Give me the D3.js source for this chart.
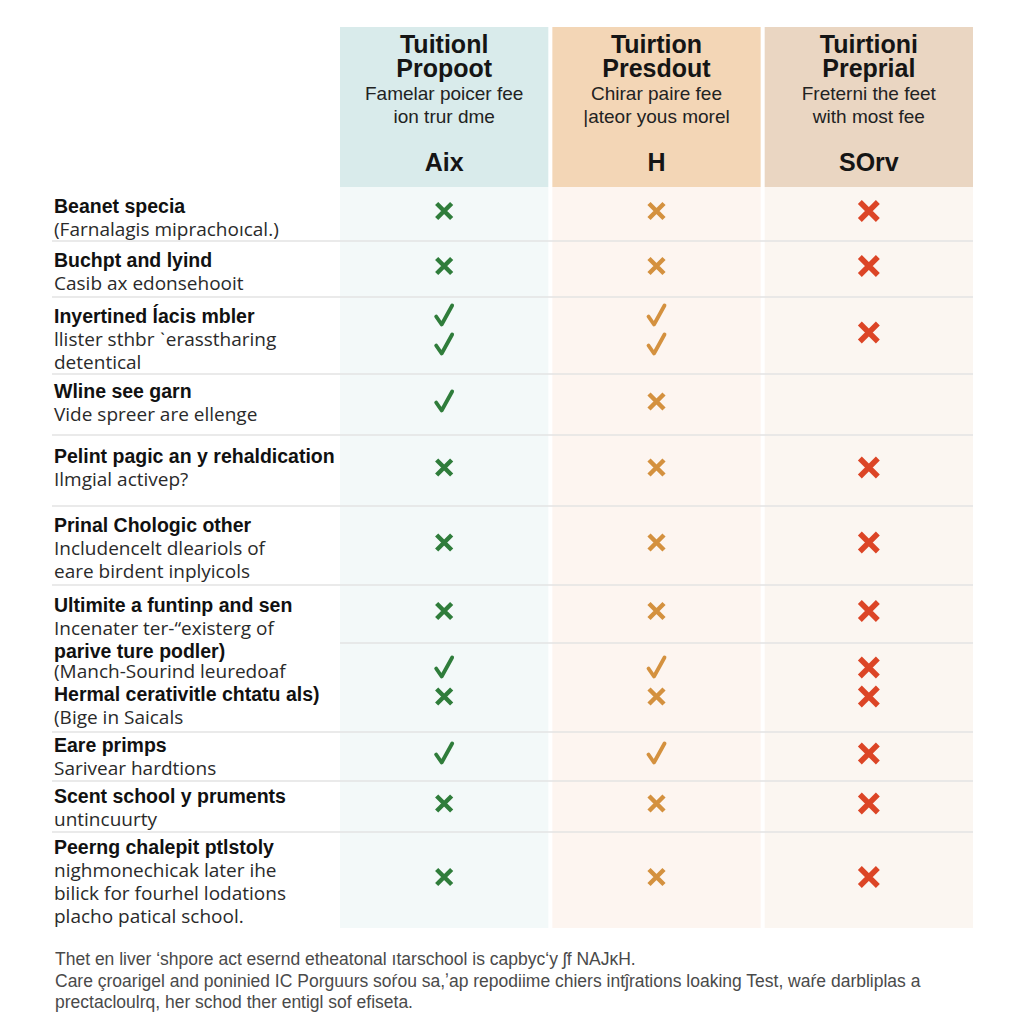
<!DOCTYPE html>
<html><head><meta charset="utf-8">
<script src="https://cdn.jsdelivr.net/npm/d3@7"></script>
<style>body{margin:0;background:#fff}svg{display:block}</style>
</head><body>
<svg id="c" width="1024" height="1024"></svg>
<script>
// ---------- DATA ----------
const columns = ["A", "B", "C"];
const colTitles = [["Tuitionl", "Propoot"], ["Tuirtion", "Presdout"], ["Tuirtioni", "Preprial"]];
const colSubtitles = [["Famelar poicer fee", "ion trur dme"], ["Chirar paire fee", "|ateor yous morel"], ["Freterni the feet", "with most fee"]];
const colCodes = ["Aix", "H", "SOrv"];

const rowLabels = [
  [["Beanet specia", 1], ["(Farnalagis mipracho\u0131cal.)", 0]],
  [["Buchpt and lyind", 1], ["Casib ax edonsehooit", 0]],
  [["Inyertined ĺacis mbler", 1], ["llister sthbr \u02cberasstharing", 0], ["detentical", 0]],
  [["Wline see garn", 1], ["Vide spreer are ellenge", 0]],
  [["Pelint pagic an y rehaldication", 1], ["Ilmgial activep?", 0]],
  [["Prinal Chologic other", 1], ["Includencelt dleariols of", 0], ["eare birdent inplyicols", 0]],
  [["Ultimite a funtinp and sen", 1], ["Incenater ter-\u201cexisterg of", 0], ["parive ture podler)", 1]],
  [["(Manch-Sourind leuredoaf", 0], ["Hermal cerativitle chtatu als)", 1], ["(Bige in Saicals", 0]],
  [["Eare primps", 1], ["Sarivear hardtions", 0]],
  [["Scent school y pruments", 1], ["untincuurty", 0]],
  [["Peerng chalepit ptlstoly", 1], ["nighmonechicak later ihe", 0], ["bilick for fourhel lodations", 0], ["placho patical school.", 0]]
];

const marksA = [["x"], ["x"], ["check", "check"], ["check"], ["x"], ["x"], ["x"], ["check", "x"], ["check"], ["x"], ["x"]];
const marksB = [["x"], ["x"], ["check", "check"], ["x"], ["x"], ["x"], ["x"], ["check", "x"], ["check"], ["x"], ["x"]];
const marksC = [["x"], ["x"], ["x"], [], ["x"], ["x"], ["x"], ["x", "x"], ["x"], ["x"], ["x"]];

const footnote = [
  "Thet en liver \u02bbshpore act esernd etheatonal \u0131tarschool is capbyc\u02bby \u0283f NAJ\u0138H.",
  "Care \u00e7roarigel and poninied IC Porguurs so\u0155ou sa,\u02bcap repodiime chiers int\u0135rations loaking Test, wa\u0155e darbliplas a",
  "prectacloulrq, her schod ther entigl sof efiseta."
];

// ---------- LAYOUT ----------
const headerTop = 27, headerBottom = 187;
const rowEdges = [187, 241, 297, 374, 435, 506, 585, 643, 732, 781, 832, 928];
const labelPad = [26, 26, 26, 24, 28, 26, 27, 35, 20, 22, 22];
const fullLine = [true, true, true, true, true, true, false, true, true, true];
const headBg = ["#d9ebeb", "#f3d6b6", "#ead6c2"];
const bodyBg = ["#f3f9f9", "#fdf5f0", "#fbf6f1"];
const markColor = ["#2f7d3b", "#d4913f", "#dc4526"];

const svg = d3.select("#c");
const x = d3.scaleBand().domain(columns).range([340, 973]).paddingInner(4 / 211).paddingOuter(0);
const allMarks = [marksA, marksB, marksC];

// column backgrounds + headers
columns.forEach((c, i) => {
  svg.append("rect").attr("x", x(c)).attr("y", headerBottom).attr("width", x.bandwidth())
    .attr("height", rowEdges[rowEdges.length - 1] - headerBottom).attr("fill", bodyBg[i]);
  svg.append("rect").attr("x", x(c)).attr("y", headerTop).attr("width", x.bandwidth())
    .attr("height", headerBottom - headerTop).attr("fill", headBg[i]);
  const cx = x(c) + x.bandwidth() / 2;
  const g = svg.append("g").attr("text-anchor", "middle").attr("fill", "#151515");
  colTitles[i].forEach((t, k) => g.append("text").attr("x", cx).attr("y", 53 + k * 24)
    .attr("font-family", "Liberation Sans, Arial, sans-serif").attr("font-weight", "bold")
    .attr("font-size", 25).text(t));
  colSubtitles[i].forEach((t, k) => g.append("text").attr("x", cx).attr("y", 100 + k * 23)
    .attr("font-family", "Liberation Sans, Arial, sans-serif").attr("font-size", 19)
    .attr("fill", "#222").text(t));
  g.append("text").attr("x", cx).attr("y", 171)
    .attr("font-family", "Liberation Sans, Arial, sans-serif").attr("font-weight", "bold")
    .attr("font-size", 25).text(colCodes[i]);
});

// separators
for (let r = 1; r < rowEdges.length - 1; r++) {
  svg.append("line").attr("x1", fullLine[r - 1] ? 52 : 340).attr("x2", 973)
    .attr("y1", rowEdges[r]).attr("y2", rowEdges[r])
    .attr("stroke", "#e3e3e3").attr("stroke-width", 1.5);
}

// row labels
rowLabels.forEach((lines, r) => {
  lines.forEach((ln, k) => {
    svg.append("text").attr("x", 54).attr("y", rowEdges[r] + labelPad[r] + k * 23)
      .attr("font-family", ln[1] ? "Liberation Sans, Arial, sans-serif" : "Open Sans, sans-serif")
      .attr("font-weight", ln[1] ? "bold" : "normal")
      .attr("font-size", ln[1] ? 19.5 : 19)
      .attr("fill", ln[1] ? "#111" : "#2a2a2a")
      .text(ln[0]);
  });
});

// marks
function drawMark(g, type, color, big) {
  if (type === "check") {
    g.append("path").attr("d", "M-8,1 L-2.5,9 L8,-10")
      .attr("fill", "none").attr("stroke", color).attr("stroke-width", 3.8)
      .attr("stroke-linecap", "round").attr("stroke-linejoin", "round");
  } else {
    const s = big ? 9 : 7.5;
    g.append("path").attr("d", `M${-s},${-s} L${s},${s} M${s},${-s} L${-s},${s}`)
      .attr("fill", "none").attr("stroke", color).attr("stroke-width", big ? 5.5 : 4.5);
  }
}
allMarks.forEach((col, i) => {
  const cx = x(columns[i]) + x.bandwidth() / 2;
  col.forEach((list, r) => {
    const cy = (rowEdges[r] + rowEdges[r + 1]) / 2 - 3;
    const offs = list.length === 2 ? [-17, 12] : [0];
    list.forEach((t, k) => {
      const g = svg.append("g").attr("transform", `translate(${cx},${cy + offs[k]})`);
      drawMark(g, t, markColor[i], i === 2);
    });
  });
});

// footnote
footnote.forEach((t, k) => svg.append("text").attr("x", 55).attr("y", 965 + k * 21.5)
  .attr("font-family", "Liberation Sans, Arial, sans-serif").attr("font-size", 17.5)
  .attr("fill", "#4a4a4a").text(t));
</script>
</body></html>
